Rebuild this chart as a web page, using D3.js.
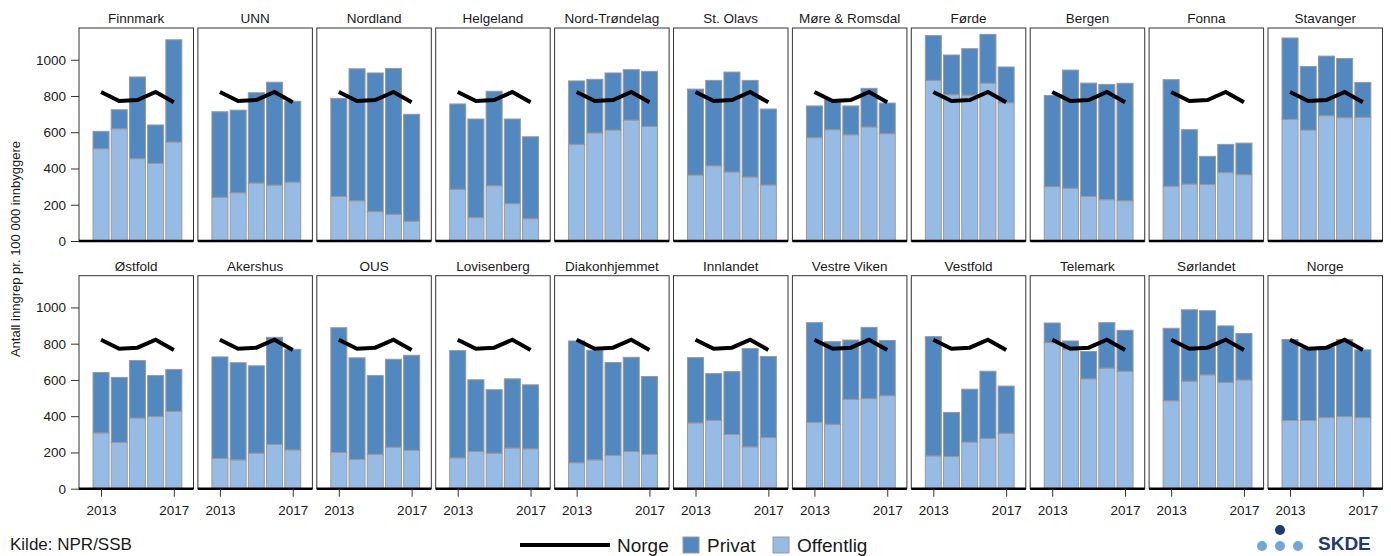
<!DOCTYPE html>
<html>
<head>
<meta charset="utf-8">
<script src="https://cdn.jsdelivr.net/npm/d3@7"></script>
<style>
  body { margin: 0; background: #fff; }
  text { font-family: "Liberation Sans", Arial, sans-serif; fill: #1a1a1a; }
</style>
</head>
<body>
<div id="chart"></div>
<script>
// values (per 100 000 inhabitants)
const years = [2013, 2014, 2015, 2016, 2017];
const regions = ["Finnmark", "UNN", "Nordland", "Helgeland", "Nord-Trøndelag", "St. Olavs",
  "Møre & Romsdal", "Førde", "Bergen", "Fonna", "Stavanger",
  "Østfold", "Akershus", "OUS", "Lovisenberg", "Diakonhjemmet", "Innlandet",
  "Vestre Viken", "Vestfold", "Telemark", "Sørlandet", "Norge"];

const offentlig = [
  [509, 619, 454, 428, 546],
  [241, 266, 320, 308, 325],
  [246, 222, 162, 147, 109],
  [285, 129, 305, 206, 123],
  [533, 596, 612, 667, 632],
  [364, 415, 381, 353, 309],
  [570, 614, 586, 629, 592],
  [886, 807, 805, 871, 763],
  [300, 291, 246, 228, 222],
  [302, 314, 312, 377, 366],
  [671, 612, 691, 680, 682],
  [308, 255, 390, 398, 427],
  [167, 159, 196, 244, 214],
  [200, 161, 189, 229, 212],
  [170, 205, 196, 224, 220],
  [143, 159, 183, 205, 189],
  [363, 377, 299, 231, 282],
  [365, 355, 493, 497, 513],
  [181, 178, 257, 277, 306],
  [806, 769, 606, 665, 648],
  [485, 593, 628, 586, 600],
  [376, 376, 392, 398, 392]
];

const privat = [
  [96, 105, 451, 212, 564],
  [472, 456, 498, 568, 446],
  [541, 728, 765, 805, 590],
  [471, 544, 521, 467, 452],
  [350, 296, 315, 278, 304],
  [474, 471, 551, 533, 419],
  [175, 166, 159, 213, 169],
  [247, 219, 256, 269, 197],
  [503, 652, 625, 636, 648],
  [588, 300, 155, 156, 174],
  [449, 351, 329, 327, 193],
  [333, 359, 317, 226, 231],
  [560, 536, 482, 591, 555],
  [688, 561, 435, 485, 524],
  [592, 396, 350, 382, 353],
  [672, 605, 513, 520, 430],
  [360, 258, 347, 542, 447],
  [551, 456, 327, 393, 305],
  [658, 243, 292, 371, 260],
  [108, 46, 151, 251, 226],
  [400, 394, 354, 312, 256],
  [447, 397, 388, 425, 374]
];

// national rate, drawn as a line in every panel
const norge = [822, 772, 778, 822, 765];

const yTicks = [0, 200, 400, 600, 800, 1000];
const xTicks = [2013, 2017];

const width = 1391;
const height = 556;

// panel grid
const cols = 11;
const gridLeft = 79;
const gridTop = 28;
const pitchX = 118.9;
const pitchY = 247.7;
const panelW = 114.5;
const panelH = 213;

const colPrivat = "#5288c0";
const colOffentlig = "#96bce5";

const svg = d3.select("#chart")
  .append("svg")
  .attr("width", width)
  .attr("height", height);

const x = d3.scaleLinear().domain([2011.79, 2018.08]).range([0, panelW]);
const y = d3.scaleLinear().domain([0, 1175]).range([panelH, 0]);
const barW = x(2013.88) - x(2013);

const stack = d3.stack().keys(["offentlig", "privat"]);

const line = d3.line()
  .x((d, i) => x(years[i]))
  .y(d => y(d));

regions.forEach(function (name, r) {
  const col = r % cols;
  const row = Math.floor(r / cols);
  const g = svg.append("g")
    .attr("transform", "translate(" + (gridLeft + col * pitchX) + "," + (gridTop + row * pitchY) + ")");

  const table = years.map((yr, i) => ({ year: yr, offentlig: offentlig[r][i], privat: privat[r][i] }));
  const series = stack(table);

  // frame
  g.append("rect")
    .attr("width", panelW)
    .attr("height", panelH)
    .attr("fill", "none")
    .attr("stroke", "#333")
    .attr("stroke-width", 1);

  g.selectAll("g.layer")
    .data(series)
    .enter()
    .append("g")
    .attr("fill", d => d.key === "privat" ? colPrivat : colOffentlig)
    .selectAll("rect")
    .data(d => d)
    .enter()
    .append("rect")
    .attr("x", d => x(d.data.year) - barW / 2)
    .attr("y", d => y(d[1]))
    .attr("width", barW)
    .attr("height", d => y(d[0]) - y(d[1]))
    .attr("stroke", "#999")
    .attr("stroke-width", 1);

  g.append("path")
    .datum(norge)
    .attr("d", line)
    .attr("fill", "none")
    .attr("stroke", "#000")
    .attr("stroke-width", 4);

  // bottom axis line
  g.append("line")
    .attr("x1", 0)
    .attr("x2", panelW)
    .attr("y1", panelH)
    .attr("y2", panelH)
    .attr("stroke", "#000")
    .attr("stroke-width", 2.5);

  g.append("text")
    .attr("x", panelW / 2)
    .attr("y", -5)
    .attr("text-anchor", "middle")
    .style("font-size", "13.5px")
    .text(name);

  if (col === 0) {
    const ax = g.append("g")
      .call(d3.axisLeft(y).tickValues(yTicks).tickFormat(d3.format("d")).tickSize(8).tickPadding(5));
    ax.select(".domain").remove();
    ax.selectAll("text").style("font-size", "13.5px").style("font-family", "Liberation Sans, Arial, sans-serif").attr("fill", "#1a1a1a");
    ax.selectAll("line").attr("stroke", "#333");
  }

  if (row === 1) {
    const bx = g.append("g")
      .attr("transform", "translate(0," + panelH + ")")
      .call(d3.axisBottom(x).tickValues(xTicks).tickFormat(d3.format("d")).tickSize(8).tickPadding(9));
    bx.select(".domain").remove();
    bx.selectAll("text").style("font-size", "13.5px").style("font-family", "Liberation Sans, Arial, sans-serif").attr("fill", "#1a1a1a");
    bx.selectAll("line").attr("stroke", "#333");
  }
});

// y axis title
svg.append("text")
  .attr("transform", "translate(20,249) rotate(-90)")
  .attr("text-anchor", "middle")
  .style("font-size", "13px")
  .text("Antall inngrep pr. 100 000 innbyggere");

// legend
const legend = svg.append("g").attr("transform", "translate(520,545)");
legend.append("line")
  .attr("x1", 0).attr("x2", 90)
  .attr("stroke", "#000").attr("stroke-width", 4);
legend.append("text").attr("x", 97).attr("y", 7).style("font-size", "19px").text("Norge");
legend.append("rect").attr("x", 163).attr("y", -8).attr("width", 16).attr("height", 16)
  .attr("fill", colPrivat).attr("stroke", "#999");
legend.append("text").attr("x", 187).attr("y", 7).style("font-size", "19px").text("Privat");
legend.append("rect").attr("x", 253).attr("y", -8).attr("width", 16).attr("height", 16)
  .attr("fill", colOffentlig).attr("stroke", "#999");
legend.append("text").attr("x", 277).attr("y", 7).style("font-size", "19px").text("Offentlig");

// source note
svg.append("text")
  .attr("x", 10)
  .attr("y", 550)
  .style("font-size", "17px")
  .text("Kilde: NPR/SSB");

// SKDE logo
const logo = svg.append("g");
logo.append("circle").attr("cx", 1280).attr("cy", 530).attr("r", 5).attr("fill", "#1d3a72");
[1262, 1280, 1298].forEach(function (cx) {
  logo.append("circle").attr("cx", cx).attr("cy", 546).attr("r", 5).attr("fill", "#6fa8dc");
});
logo.append("text")
  .attr("x", 1318)
  .attr("y", 550)
  .style("font-size", "19px")
  .style("font-weight", "bold")
  .style("fill", "#1d3a72")
  .text("SKDE");
</script>
</body>
</html>
